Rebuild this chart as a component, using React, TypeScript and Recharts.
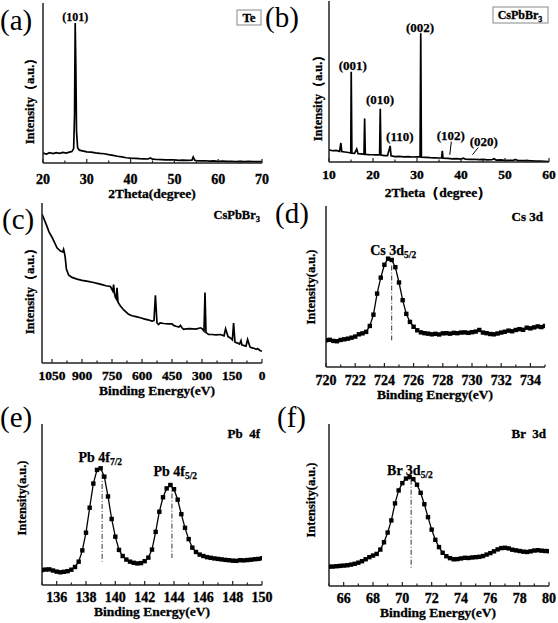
import React from "react";
import { LineChart, Line, XAxis, YAxis, ReferenceLine, ReferenceDot } from "recharts";

const FONT = "'Liberation Serif', 'Times New Roman', serif";
const INK = "#000";
const FRAME = "#222";

// (a) Te XRD: [2theta, intensity %]
const teXrd: [number, number][] = [
  [20, 6.2], [20.8, 5.6], [21.5, 6.4], [22.3, 5.9], [23, 6.5], [23.8, 6.0], [24.5, 6.6],
  [25.3, 6.2], [26, 6.8], [26.6, 7.2], [27.0, 9], [27.2, 30], [27.35, 87.5], [27.5, 60],
  [27.65, 20], [27.9, 9.5], [28.3, 8], [29, 7.6], [30, 7.0], [31, 6.8], [32, 6.3], [33, 6.0],
  [34, 5.8], [35, 5.2], [36, 4.8], [37, 4.2], [38, 3.8], [39, 3.3], [40, 3.0], [41, 2.9],
  [42, 2.7], [43, 2.6], [44, 2.5], [44.5, 3.1], [45, 2.4], [46, 2.2], [47, 2.1], [48, 2.0],
  [49, 1.9], [50, 1.9], [51, 1.7], [52, 1.8], [53, 1.6], [54, 1.7], [54.3, 3.8], [54.6, 1.8],
  [55, 1.5], [56, 1.3], [57, 1.4], [58, 1.2], [59, 1.3], [60, 1.1], [61, 1.2], [62, 1.0],
  [63, 1.1], [64, 0.9], [65, 1.0], [66, 0.9], [67, 1.0], [68, 0.8], [69, 0.9], [70, 0.8],
];

// (b) CsPbBr3 XRD
const perovXrd: [number, number][] = [
  [10, 7.6], [10.8, 7.0], [11.6, 7.2], [12.4, 6.6], [12.7, 11.8], [12.9, 6.5], [13.6, 6.2],
  [14.4, 5.9], [14.95, 5.6], [15.05, 56], [15.2, 5.5], [15.8, 5.4], [16.3, 8], [16.6, 5.2],
  [17.3, 5.0], [17.95, 4.8], [18.1, 27], [18.25, 4.8], [19, 4.6], [19.8, 4.5], [20.6, 4.4],
  [21.5, 4.4], [21.65, 33], [21.8, 4.3], [22.6, 4.0], [23.3, 3.9], [23.9, 10], [24.1, 3.8],
  [25, 3.4], [26, 3.5], [27, 3.2], [28, 3.3], [29, 3.1], [30, 3.2], [30.7, 3.2], [30.85, 80],
  [31, 3.0], [32, 2.9], [33, 2.7], [34, 2.6], [35, 2.5], [35.6, 2.5], [35.75, 7], [35.9, 2.4],
  [37, 2.2], [38, 2.0], [39, 2.1], [40, 1.8], [40.5, 2.4], [41, 1.8], [42, 1.6], [43, 1.7],
  [44, 1.5], [45, 1.6], [46, 1.3], [47, 1.4], [47.5, 2.0], [48, 1.2], [49, 1.3], [50, 1.1],
  [51, 1.0], [52, 1.1], [52.3, 1.6], [53, 0.9], [54, 0.8], [55, 0.8], [56, 0.7], [57, 0.6],
  [58, 0.5], [59, 0.4], [60, 0.3],
];

// (c) XPS survey: [binding energy, intensity %]
const survey: [number, number][] = [
  [0, 7.3], [10, 7.8], [22, 9], [28, 8.5], [40, 9.2], [50, 9.4], [60, 10], [72, 14.7], [80, 10.5],
  [92, 11], [100, 11.2], [105, 14], [112, 11.8], [125, 12.6], [135, 13], [142, 25], [148, 14.5],
  [158, 15.7], [170, 16.5], [182, 21.4], [190, 17], [208, 17.8], [230, 17.6], [250, 17.8],
  [267, 17.8], [280, 19], [285, 44], [290, 20], [300, 21.5], [308, 22], [330, 21.2], [360, 21.5],
  [380, 21.3], [392, 21], [400, 22], [408, 23.5], [415, 22.5], [430, 23], [442, 23.5], [450, 24.5],
  [470, 24.5], [490, 24.7], [510, 25], [517, 24], [525, 25], [533, 42.3], [540, 26.5], [550, 26.2],
  [570, 27], [590, 27.6], [608, 28.3], [630, 29], [650, 29.5], [667, 30.4], [690, 33], [708, 35.6],
  [720, 38], [725, 47], [728, 40], [733, 41], [738, 44], [742, 49], [746, 45], [758, 47.8],
  [780, 48.3], [800, 49], [820, 49.6], [842, 50.3], [870, 51], [900, 51.6], [925, 52.4],
  [950, 53.5], [967, 55], [978, 58.7], [984, 66], [988, 69], [992, 71], [996, 69.5], [1008, 70],
  [1025, 72], [1040, 76], [1050, 78.6], [1065, 82], [1077, 86], [1090, 90], [1100, 93],
];

// (d) Cs 3d, sampled every 0.25 eV from 720
const csStart = 720;
const cs3d = [
  16.6, 16.9, 16.2, 16.0, 16.8, 17.2, 17.6, 18.2, 18.9, 20.3, 20.9, 21.8, 25.5, 32.5, 45.6, 55.5,
  63.5, 67.3, 66.5, 62, 52.5, 41.5, 33, 28, 25, 22.8, 21.5, 21.0, 20.7, 20.3, 20.6, 20.2,
  20.9, 21.0, 20.7, 21.2, 21.0, 21.4, 21.5, 21.2, 21.6, 22.0, 23.0, 21.4, 21.0, 20.5, 20.3, 20.8,
  21.4, 21.9, 22.6, 22.2, 23.0, 23.5, 23.1, 24.4, 24.0, 24.6, 25.2, 24.8, 25.5,
];

// (e) Pb 4f, every 0.25 eV from 135
const pbStart = 135;
const pb4f = [
  9.3, 9.6, 9.7, 9.0, 8.3, 7.9, 8.2, 8.6, 9.5, 11.2, 14.5, 21.5, 32.5, 48, 63, 71.5,
  72.5, 67.3, 55, 41, 30, 21.8, 18.0, 15.8, 14.5, 13.8, 13.4, 13.6, 14.8, 17.0, 22, 33,
  45.5, 54.5, 60, 62.1, 59.5, 53, 44, 35.5, 28.5, 23.2, 20.5, 18.9, 18.0, 17.3, 16.9, 16.5,
  16.2, 15.9, 15.6, 15.4, 15.1, 15.0, 15.4, 15.3, 15.5, 15.7, 16.0, 16.2, 16.6,
];

// (f) Br 3d, every 0.25 eV from 65
const brStart = 65;
const br3d = [
  11.9, 12.0, 12.2, 12.4, 12.6, 12.8, 13.2, 13.7, 14.4, 15.3, 16.5, 17.8, 18.8, 19.8, 22.5, 27,
  33, 40.5, 51, 59, 63.5, 66.3, 67.2, 66, 62.5, 57.5, 50.5, 42.5, 34.8, 28.5, 24, 20.5,
  18.4, 17.2, 16.5, 16.6, 17.0, 17.4, 17.3, 17.6, 17.8, 18.0, 18.5, 19.4, 20.3, 21.4, 22.6, 23.4,
  23.6, 23.2, 22.4, 22.0, 21.6, 21.2, 21.0, 21.4, 21.9, 22.1, 21.8, 21.6, 21.5,
];
const xpsStep = 0.25;

const pairRows = (pairs: [number, number][]) => pairs.map(([x, y]) => ({ x, y }));
const gridRows = (start: number, ys: number[]) => ys.map((y, i) => ({ x: start + i * xpsStep, y }));

const InTick = (props: any) => {
  const { x, y, payload, labeled, dy, size } = props;
  const show = labeled.includes(payload.value);
  return (
    <g>
      <line x1={x} x2={x} y1={y} y2={y - (show ? 4 : 2.5)} stroke={FRAME} strokeWidth={1.2} />
      {show && (
        <text x={x} y={y + dy} textAnchor="middle" fontFamily={FONT} fontWeight="bold" fontSize={size}
          fill={INK} stroke={INK} strokeWidth={0.35}>
          {payload.value}
        </text>
      )}
    </g>
  );
};

const PeakLabel = (props: any) => {
  const { viewBox, text, sub, size } = props;
  return (
    <text x={viewBox.x} y={viewBox.y} textAnchor="middle" fontFamily={FONT} fontWeight="bold" fontSize={size}
      fill={INK} stroke={INK} strokeWidth={0.25}>
      {text}
      {sub && (
        <tspan fontSize={size * 0.68} dy={3}>
          {sub}
        </tspan>
      )}
    </text>
  );
};

const SquareDot = (props: any) => {
  const { cx, cy, index } = props;
  return <rect key={`sq-${index}`} x={cx - 2.2} y={cy - 2.2} width={4.4} height={4.4} fill={INK} />;
};

type PanelProps = {
  left: number;
  top: number;
  width: number;
  height: number;
  box: [number, number, number, number];
  data: { x: number; y: number }[];
  domain: [number, number];
  ticks: number[];
  labeled: number[];
  tickDy: number;
  tickSize?: number;
  reversed?: boolean;
  markers?: boolean;
  children?: React.ReactNode;
};

const Panel = ({ left, top, width, height, box, data, domain, ticks, labeled, tickDy, tickSize = 14, reversed, markers, children }: PanelProps) => {
  const [x0, y0, x1, y1] = box;
  return (
    <div style={{ position: "absolute", left, top }}>
      <LineChart width={width} height={height} data={data} margin={{ top: y0 - top, right: left + width - x1, left: 0, bottom: 0 }}>
        <XAxis
          dataKey="x"
          type="number"
          domain={domain}
          ticks={ticks}
          interval={0}
          reversed={reversed}
          allowDataOverflow
          height={top + height - y1}
          tickSize={0}
          tickMargin={0}
          tickLine={false}
          stroke={FRAME}
          strokeWidth={1.5}
          tick={<InTick labeled={labeled} dy={tickDy} size={tickSize} />}
        />
        <XAxis xAxisId="top" orientation="top" dataKey="x" type="number" domain={domain} reversed={reversed} allowDataOverflow height={0} tick={false} tickLine={false} stroke={FRAME} strokeWidth={1.5} />
        <YAxis type="number" domain={[0, 100]} width={x0 - left} tick={false} tickLine={false} stroke={FRAME} strokeWidth={1.5} allowDataOverflow />
        <YAxis yAxisId="right" orientation="right" type="number" domain={[0, 100]} width={0} tick={false} tickLine={false} stroke={FRAME} strokeWidth={1.5} />
        <Line
          type="linear"
          dataKey="y"
          stroke={INK}
          strokeWidth={markers ? 1.3 : 1.7}
          dot={markers ? SquareDot : false}
          isAnimationActive={false}
        />
        {children}
      </LineChart>
    </div>
  );
};

const dashDot = "5 2 1 2";
const label = (text: string, sub: string | undefined, size: number) => <PeakLabel text={text} sub={sub} size={size} />;

const txt = { fontFamily: FONT, fontWeight: "bold" as const, fill: INK, stroke: INK, strokeWidth: 0.3 };

export default function App() {
  return (
    <div style={{ position: "absolute", left: 0, top: 0, width: 558, height: 623, background: "#fff" }}>
      <Panel left={0} top={0} width={280} height={200} box={[43, 3, 262, 163]} data={pairRows(teXrd)} domain={[20, 70]}
        ticks={[20, 25, 30, 35, 40, 45, 50, 55, 60, 65, 70]} labeled={[20, 30, 40, 50, 60, 70]} tickDy={21}>
        <ReferenceDot x={27.35} y={89} r={0} fill="none" stroke="none" label={label("(101)", undefined, 12)} />
      </Panel>

      <Panel left={280} top={0} width={278} height={200} box={[329, 1, 549, 162]} data={pairRows(perovXrd)} domain={[10, 60]}
        ticks={[10, 15, 20, 25, 30, 35, 40, 45, 50, 55, 60]} labeled={[10, 20, 30, 40, 50, 60]} tickDy={17} tickSize={13.5}>
        <ReferenceDot x={15.4} y={57.3} r={0} fill="none" stroke="none" label={label("(001)", undefined, 13)} />
        <ReferenceDot x={21.6} y={36.2} r={0} fill="none" stroke="none" label={label("(010)", undefined, 13)} />
        <ReferenceDot x={26.1} y={13.2} r={0} fill="none" stroke="none" label={label("(110)", undefined, 13)} />
        <ReferenceDot x={30.7} y={81} r={0} fill="none" stroke="none" label={label("(002)", undefined, 13)} />
        <ReferenceDot x={37.7} y={13.9} r={0} fill="none" stroke="none" label={label("(102)", undefined, 13)} />
        <ReferenceDot x={45.2} y={10.1} r={0} fill="none" stroke="none" label={label("(020)", undefined, 13)} />
        <ReferenceLine segment={[{ x: 37.8, y: 12.6 }, { x: 37.45, y: 4.5 }]} stroke={INK} strokeWidth={1} />
        <ReferenceLine segment={[{ x: 43.9, y: 8.9 }, { x: 42.6, y: 4.5 }]} stroke={INK} strokeWidth={1} />
      </Panel>

      <Panel left={0} top={200} width={280} height={200} box={[42, 203, 262, 363]} data={pairRows(survey)} domain={[0, 1100]} reversed
        ticks={[0, 75, 150, 225, 300, 375, 450, 525, 600, 675, 750, 825, 900, 975, 1050]} labeled={[0, 150, 300, 450, 600, 750, 900, 1050]}
        tickDy={17} tickSize={13.5} />

      <Panel left={280} top={200} width={278} height={200} box={[326, 206, 545, 367]} data={gridRows(csStart, cs3d)} domain={[720, 735]} markers
        ticks={[720, 721, 722, 723, 724, 725, 726, 727, 728, 729, 730, 731, 732, 733, 734, 735]} labeled={[720, 722, 724, 726, 728, 730, 732, 734]}
        tickDy={18}>
        <ReferenceLine segment={[{ x: 724.5, y: 63 }, { x: 724.5, y: 16.6 }]} stroke="#333" strokeWidth={1} strokeDasharray={dashDot} />
        <ReferenceDot x={724.6} y={69.4} r={0} fill="none" stroke="none" label={label("Cs 3d", "5/2", 14)} />
      </Panel>

      <Panel left={0} top={410} width={280} height={213} box={[42, 424, 262, 585]} data={gridRows(pbStart, pb4f)} domain={[135, 150]} markers
        ticks={[135, 136, 137, 138, 139, 140, 141, 142, 143, 144, 145, 146, 147, 148, 149, 150]} labeled={[136, 138, 140, 142, 144, 146, 148, 150]}
        tickDy={17}>
        <ReferenceLine segment={[{ x: 139.1, y: 69 }, { x: 139.1, y: 14.5 }]} stroke="#333" strokeWidth={1} strokeDasharray={dashDot} />
        <ReferenceLine segment={[{ x: 143.86, y: 63 }, { x: 143.86, y: 16.8 }]} stroke="#333" strokeWidth={1} strokeDasharray={dashDot} />
        <ReferenceDot x={138.97} y={76.4} r={0} fill="none" stroke="none" label={label("Pb 4f", "7/2", 14)} />
        <ReferenceDot x={144.09} y={67.7} r={0} fill="none" stroke="none" label={label("Pb 4f", "5/2", 14)} />
      </Panel>

      <Panel left={280} top={410} width={278} height={213} box={[329, 424, 549, 586]} data={gridRows(brStart, br3d)} domain={[65, 80]} markers
        ticks={[65, 66, 67, 68, 69, 70, 71, 72, 73, 74, 75, 76, 77, 78, 79, 80]} labeled={[66, 68, 70, 72, 74, 76, 78, 80]}
        tickDy={17}>
        <ReferenceLine segment={[{ x: 70.6, y: 65.6 }, { x: 70.6, y: 11.3 }]} stroke="#333" strokeWidth={1} strokeDasharray={dashDot} />
        <ReferenceDot x={70.52} y={68.3} r={0} fill="none" stroke="none" label={label("Br 3d", "5/2", 14)} />
      </Panel>

      <svg width={558} height={623} style={{ position: "absolute", left: 0, top: 0, pointerEvents: "none" }}>
        {/* panel letters */}
        <g fontFamily={FONT} fontSize={29} fill={INK}>
          <text x={0} y={30}>(a)</text>
          <text x={265} y={27}>(b)</text>
          <text x={2} y={229}>(c)</text>
          <text x={275} y={223}>(d)</text>
          <text x={0} y={427}>(e)</text>
          <text x={277} y={427}>(f)</text>
        </g>

        {/* axis titles */}
        <g {...txt} fontSize={13.5} textAnchor="middle">
          <text x={152} y={198}>2Theta(degree)</text>
          <text x={438} y={197}>2Theta（degree）</text>
          <text x={157} y={395}>Binding Energy(eV)</text>
          <text x={435} y={399}>Binding Energy(eV)</text>
          <text x={152} y={616}>Binding Energy(eV)</text>
          <text x={438} y={617}>Binding Energy(eV)</text>
        </g>
        <g {...txt} fontSize={12.5} textAnchor="middle">
          <text transform="translate(34,98) rotate(-90)">Intensity（a.u.）</text>
          <text transform="translate(322,95) rotate(-90)">Intensity（a.u.）</text>
          <text transform="translate(34,288) rotate(-90)">Intensity（a.u.）</text>
          <text transform="translate(315,287) rotate(-90)">Intensity(a.u.)</text>
          <text transform="translate(26,498) rotate(-90)">Intensity(a.u.)</text>
          <text transform="translate(315,500) rotate(-90)">Intensity(a.u.)</text>
        </g>

        {/* legend boxes / sample names */}
        <rect x={237} y={10} width={24} height={15} fill="#fff" stroke="#888" strokeWidth={1} />
        <text {...txt} x={249} y={22} fontSize={13} textAnchor="middle">Te</text>
        <rect x={493} y={7} width={55} height={16} fill="#fff" stroke="#888" strokeWidth={1} />
        <text {...txt} x={520} y={19} fontSize={12} textAnchor="middle">
          CsPbBr<tspan fontSize={8} dy={3}>3</tspan>
        </text>
        <text {...txt} x={260} y={219} fontSize={12.5} textAnchor="end">
          CsPbBr<tspan fontSize={8.5} dy={3}>3</tspan>
        </text>
        <text {...txt} x={543} y={221} fontSize={13} textAnchor="end">Cs 3d</text>
        <text {...txt} x={260} y={438} fontSize={13} textAnchor="end" style={{ whiteSpace: "pre" }}>Pb  4f</text>
        <text {...txt} x={546} y={438} fontSize={13} textAnchor="end" style={{ whiteSpace: "pre" }}>Br  3d</text>
      </svg>
    </div>
  );
}
